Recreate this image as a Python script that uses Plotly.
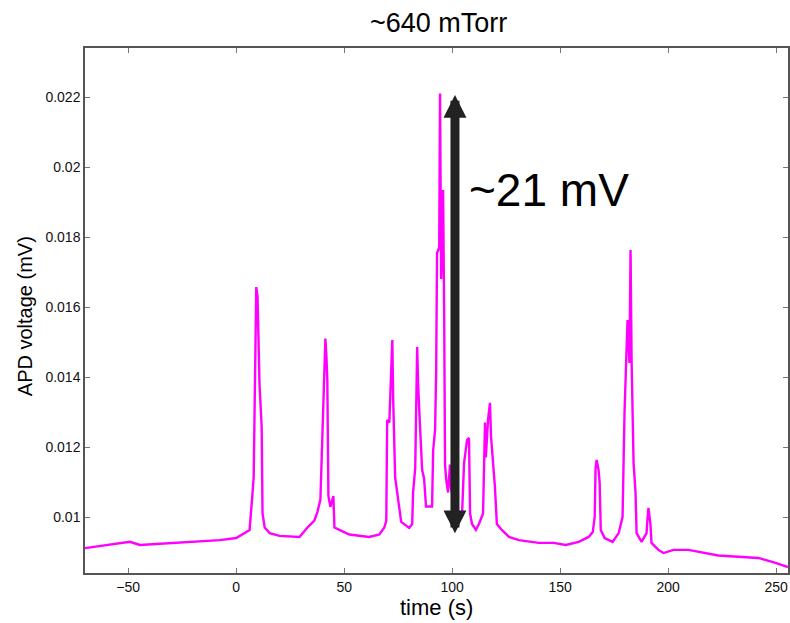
import plotly.graph_objects as go

# time (s) and APD voltage readings
time_s = [-70.0, -59.3, -49.2, -44.6, -26.1, -7.6, 0.0, 3.9, 6.2, 7.2, 8.1, 9.3, 9.9,
          10.8, 11.8, 12.2, 13.2, 15.5, 20.1, 29.3, 33.0, 36.2, 37.6, 39.0, 39.9, 40.4,
          41.3, 41.8, 42.2, 42.7, 43.6, 45.0, 45.5, 47.8, 52.4, 61.6, 66.3, 68.6, 69.5,
          69.9, 70.9, 72.3, 72.7, 73.6, 74.6, 76.4, 80.1, 81.5, 81.9, 82.9, 83.8, 84.3,
          85.2, 86.1, 87.0, 87.9, 90.7, 91.2, 92.1, 92.6, 93.0, 94.0, 94.4, 94.9, 95.4,
          95.8, 96.3, 96.7, 97.2, 98.1, 99.0, 99.5, 101.8, 104.6, 105.5, 106.9, 107.8,
          108.3, 109.2, 111.0, 112.4, 114.3, 115.2, 115.6, 116.6, 117.5, 118.0, 118.9,
          119.8, 120.7, 123.0, 126.3, 130.9, 140.1, 147.0, 152.6, 158.6, 163.2, 165.1,
          166.0, 166.4, 166.9, 167.8, 168.3, 168.8, 170.6, 174.3, 177.1, 178.9, 179.8,
          180.8, 181.2, 182.1, 182.6, 183.1, 184.0, 184.9, 185.4, 187.7, 190.0, 190.5,
          190.9, 191.8, 192.3, 195.5, 197.8, 202.5, 209.4, 223.2, 232.5, 241.7, 248.6,
          255.5]
apd_mv = [0.00911, 0.00920, 0.00929, 0.00920, 0.00926, 0.00934, 0.00940, 0.00955, 0.00963,
          0.01040, 0.01114, 0.01657, 0.01629, 0.01380, 0.01257, 0.01010, 0.00970, 0.00954,
          0.00946, 0.00943, 0.00970, 0.00990, 0.01014, 0.01050, 0.01220, 0.01370, 0.01510,
          0.01457, 0.01390, 0.01060, 0.01029, 0.01060, 0.00970, 0.00963, 0.00950, 0.00943,
          0.00950, 0.00970, 0.00990, 0.01277, 0.01270, 0.01506, 0.01334, 0.01114, 0.01069,
          0.00986, 0.00969, 0.00980, 0.01070, 0.01140, 0.01486, 0.01370, 0.01249, 0.01134,
          0.01110, 0.01030, 0.01030, 0.01190, 0.01250, 0.01420, 0.01754, 0.01770, 0.02210,
          0.01680, 0.01790, 0.01934, 0.01580, 0.01150, 0.01110, 0.01070, 0.01150, 0.01080,
          0.01020, 0.01010, 0.01154, 0.01220, 0.01226, 0.01010, 0.00980, 0.00963, 0.00980,
          0.01010, 0.01270, 0.01170, 0.01277, 0.01326, 0.01230, 0.01154, 0.01086, 0.00980,
          0.00963, 0.00943, 0.00934, 0.00926, 0.00926, 0.00920, 0.00929, 0.00943, 0.00957,
          0.01000, 0.01140, 0.01163, 0.01134, 0.01097, 0.00963, 0.00940, 0.00929, 0.00954,
          0.01000, 0.01297, 0.01457, 0.01563, 0.01440, 0.01763, 0.01440, 0.01154, 0.01070,
          0.00954, 0.00929, 0.00954, 0.01000, 0.01026, 0.00980, 0.00926, 0.00906, 0.00897,
          0.00906, 0.00906, 0.00890, 0.00886, 0.00883, 0.00871, 0.00857]

x_ticks = [-50, 0, 50, 100, 150, 200, 250]
y_ticks = [0.01, 0.012, 0.014, 0.016, 0.018, 0.02, 0.022]
y_tick_labels = ["0.01", "0.012", "0.014", "0.016", "0.018", "0.02", "0.022"]

arrow_x = 101.3
arrow_top = 0.02206
arrow_bottom = 0.00949

fig = go.Figure()
fig.add_trace(go.Scatter(x=time_s, y=apd_mv, mode="lines",
                         line=dict(color="#ff00ff", width=2.4), showlegend=False))

fig.add_annotation(x=arrow_x, y=arrow_top, ax=arrow_x, ay=arrow_bottom,
                   xref="x", yref="y", axref="x", ayref="y", text="",
                   showarrow=True, arrowhead=2, startarrowhead=2, arrowside="end+start",
                   arrowsize=0.51, startarrowsize=0.51, arrowwidth=9, arrowcolor="#222222")
fig.add_annotation(x=0.66, y=0.7295, xref="paper", yref="paper", text="~21 mV",
                   showarrow=False, font=dict(size=46, color="#000000", family="Liberation Sans, Arial"),
                   xanchor="center", yanchor="middle")

axis_common = dict(showgrid=False, zeroline=False, showline=True, linecolor="#555555",
                   linewidth=1.5, mirror="allticks", ticks="inside", ticklen=5,
                   tickcolor="#777777", tickfont=dict(size=14, color="#111111"))
fig.update_xaxes(range=[-70, 255.5], tickvals=x_ticks, **axis_common)
fig.update_yaxes(range=[0.0084, 0.0234], tickvals=y_ticks, ticktext=y_tick_labels, **axis_common)

fig.add_annotation(x=0.5035, y=1.0476, xref="paper", yref="paper", text="~640 mTorr",
                   showarrow=False, font=dict(size=27, color="#000000"),
                   xanchor="center", yanchor="middle")
fig.add_annotation(x=0.5, y=-0.0648, xref="paper", yref="paper", text="time (s)",
                   showarrow=False, font=dict(size=22, color="#000000"),
                   xanchor="center", yanchor="middle")
fig.add_annotation(x=-0.0851, y=0.4895, xref="paper", yref="paper", text="APD voltage (mV)",
                   showarrow=False, textangle=-90, font=dict(size=20, color="#000000"),
                   xanchor="center", yanchor="middle")

fig.update_layout(width=790, height=623, margin=dict(l=85, r=0, t=48, b=50),
                  plot_bgcolor="white", paper_bgcolor="white",
                  font=dict(family="Liberation Sans, Arial, sans-serif"))

fig.write_html("out.html")
